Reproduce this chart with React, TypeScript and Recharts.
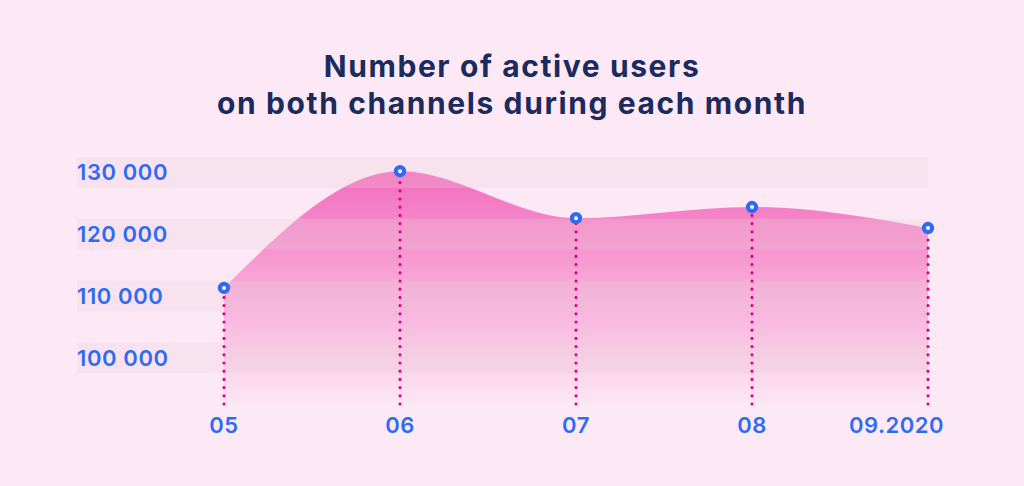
import React from 'react';
import { ComposedChart, Area, Line, XAxis, YAxis, ReferenceArea, ReferenceLine } from 'recharts';

const TITLE_LINES = ['Number of active users', 'on both channels during each month'];
const MONTHS = ['05', '06', '07', '08', '09.2020'];
const USERS = [111300, 130200, 122600, 124400, 121000];
const Y_TICKS = [100000, 110000, 120000, 130000];
const Y_DOMAIN: [number, number] = [92500, 132500];
const BAND_HALF = 2500;

const data = MONTHS.map((m, i) => ({ month: m, users: USERS[i] }));

const W = 1024;
const H = 486;
const PLOT_LEFT = 77;
const PLOT_RIGHT = 928;
const PLOT_TOP = 157;
const PLOT_BOTTOM = 404;
const X_AXIS_H = 30;

const BG = '#fde9f5';
const BLUE = '#2f6bf2';
const PINK_DOT = '#e5007d';
const NAVY = '#1b2b5e';

const fmt = (v: number) => String(v).replace(/\B(?=(\d{3})+(?!\d))/g, ' ');

const XTick = (props: any) => {
  const { x, y, payload, index } = props;
  const last = index === MONTHS.length - 1;
  return (
    <text
      x={last ? x + 16 : x}
      y={y + 21}
      textAnchor={last ? 'end' : 'middle'}
      dominantBaseline="central"
      fill={BLUE}
      fontFamily="Inter, sans-serif"
      fontWeight={600}
      fontSize={22}
      letterSpacing={0.5}
    >
      {payload.value}
    </text>
  );
};

const YTick = (props: any) => {
  const { x, y, payload } = props;
  return (
    <text
      x={x}
      y={y}
      textAnchor="start"
      dominantBaseline="central"
      fill={BLUE}
      fontFamily="Inter, sans-serif"
      fontWeight={600}
      fontSize={22}
      letterSpacing={0.6}
    >
      {fmt(payload.value)}
    </text>
  );
};

const BandShape = (p: any) => (
  <rect
    x={PLOT_LEFT}
    y={p.y}
    width={PLOT_RIGHT - PLOT_LEFT}
    height={p.height}
    fill="#e6d2da"
    fillOpacity={0.26}
  />
);

export default function App() {
  return (
    <div style={{ position: 'absolute', left: 0, top: 0, width: W, height: H, background: BG, overflow: 'hidden' }}>
      <div
        style={{
          position: 'absolute',
          top: 48,
          left: 0,
          width: W,
          textAlign: 'center',
          fontFamily: 'Inter, sans-serif',
          fontWeight: 700,
          fontSize: 30,
          lineHeight: '37px',
          color: NAVY,
          letterSpacing: 1.6,
        }}
      >
        {TITLE_LINES.map((t) => (
          <div key={t}>{t}</div>
        ))}
      </div>
      <div style={{ position: 'absolute', left: 0, top: 0 }}>
        <ComposedChart
          width={W}
          height={H}
          data={data}
          margin={{ top: PLOT_TOP, right: W - PLOT_RIGHT, bottom: H - PLOT_BOTTOM - X_AXIS_H, left: PLOT_LEFT }}
        >
          <defs>
            <linearGradient id="areaFill" x1="0" y1="0" x2="0" y2="1">
              <stop offset="0%" stopColor="#f36cbe" stopOpacity={1} />
              <stop offset="40%" stopColor="#f36cbe" stopOpacity={0.62} />
              <stop offset="70%" stopColor="#f36cbe" stopOpacity={0.32} />
              <stop offset="100%" stopColor="#f36cbe" stopOpacity={0.02} />
            </linearGradient>
          </defs>
          <XAxis
            dataKey="month"
            scale="point"
            padding={{ left: 147, right: 0 }}
            axisLine={false}
            tickLine={false}
            tickSize={0}
            tickMargin={0}
            height={X_AXIS_H}
            interval={0}
            tick={<XTick />}
          />
          <YAxis
            type="number"
            domain={Y_DOMAIN}
            ticks={Y_TICKS}
            mirror
            axisLine={false}
            tickLine={false}
            tickSize={0}
            tickMargin={0}
            tick={<YTick />}
          />
          <Area
            type="monotone"
            dataKey="users"
            stroke="none"
            fill="url(#areaFill)"
            fillOpacity={1}
            isAnimationActive={false}
            dot={false}
            activeDot={false}
          />
          {Y_TICKS.map((v) => (
            <ReferenceArea key={v} y1={v - BAND_HALF} y2={v + BAND_HALF} shape={<BandShape />} />
          ))}
          {data.map((d) => (
            <ReferenceLine
              key={d.month}
              segment={[
                { x: d.month, y: Y_DOMAIN[0] },
                { x: d.month, y: d.users },
              ]}
              stroke={PINK_DOT}
              strokeWidth={3.2}
              strokeDasharray="0 8.2"
              strokeLinecap="round"
            />
          ))}
          <Line
            type="monotone"
            dataKey="users"
            stroke="none"
            isAnimationActive={false}
            dot={{ r: 4.1, fill: '#ffffff', stroke: BLUE, strokeWidth: 4.2 }}
            activeDot={false}
          />
        </ComposedChart>
      </div>
    </div>
  );
}
